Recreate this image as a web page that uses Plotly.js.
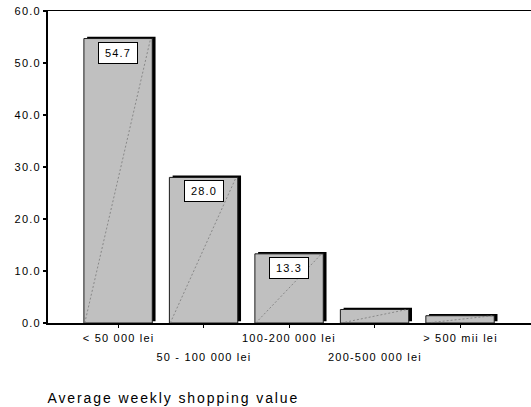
<!DOCTYPE html>
<html>
<head>
<meta charset="utf-8">
<script src="https://cdn.plot.ly/plotly-3.0.1.min.js"></script>
<style>
  html, body { margin: 0; padding: 0; background: #fff; }
  #chart { width: 531px; height: 407px; }
  .main-svg text { letter-spacing: 1.2px; }
  .annotation[data-index="0"] text { letter-spacing: 1.9px; }
</style>
</head>
<body>
<div id="chart"></div>
<script>
// Share of respondents by average weekly shopping value (%)
const categories = ['< 50 000 lei', '50 - 100 000 lei', '100-200 000 lei', '200-500 000 lei', '> 500 mii lei'];
const percents = [54.7, 28.0, 13.3, 2.6, 1.4];
const labelledBars = [0, 1, 2];           // bars carrying a value box
const yTickVals = [0, 10, 20, 30, 40, 50, 60];
const yTickText = ['0.0', '10.0', '20.0', '30.0', '40.0', '50.0', '60.0'];
const axisTitle = 'Average weekly shopping value';

const positions = categories.map((_, i) => i);
const BAR_W = 0.8;
const FONT = 'Liberation Sans, Arial, sans-serif';

// dark drop shadow behind each bar (nudged right and slightly lifted)
const shadow = {
  type: 'bar',
  x: positions,
  y: percents,
  base: 0.35,
  width: BAR_W,
  offset: -BAR_W / 2 + 0.038,
  marker: { color: '#000', line: { width: 0 } },
  hoverinfo: 'skip',
  showlegend: false
};

const bars = {
  type: 'bar',
  x: positions,
  y: percents,
  width: BAR_W,
  offset: -BAR_W / 2,
  marker: { color: '#c0c0c0', line: { color: '#1a1a1a', width: 1 } },
  showlegend: false
};

// faint diagonal hatch running corner to corner through every bar
const diagonals = percents.map((v, i) => ({
  type: 'scatter',
  mode: 'lines',
  x: [i - BAR_W / 2 + 0.01, i + BAR_W / 2 - 0.02],
  y: [0, v],
  line: { color: '#7a7a7a', width: 0.8, dash: '2px,2px' },
  hoverinfo: 'skip',
  showlegend: false
}));

const annotations = [];

// axis caption, spanning from the y axis rightwards
annotations.push({
  text: axisTitle,
  xref: 'paper', yref: 'paper',
  x: 0, y: 0,
  xanchor: 'center', yanchor: 'middle',
  xshift: 125, yshift: -75,
  showarrow: false,
  font: { family: FONT, size: 14, color: '#000' }
});

// staggered category labels under the axis
categories.forEach((c, i) => {
  annotations.push({
    text: c,
    xref: 'x', yref: 'paper',
    x: i, y: 0,
    xanchor: 'center', yanchor: 'middle',
    yshift: i % 2 === 0 ? -15 : -34,
    showarrow: false,
    font: { family: FONT, size: 11, color: '#000' }
  });
});

// boxed value labels just under the bar tops
labelledBars.forEach(i => {
  annotations.push({
    text: percents[i].toFixed(1),
    xref: 'x', yref: 'y',
    x: i, y: percents[i],
    xanchor: 'center', yanchor: 'top',
    yshift: -3,
    showarrow: false,
    width: 30,
    bgcolor: '#fff',
    bordercolor: '#000',
    borderwidth: 1,
    borderpad: 4,
    font: { family: FONT, size: 11, color: '#000' }
  });
});

const layout = {
  width: 531,
  height: 407,
  margin: { l: 48, r: 0, t: 11, b: 84 },
  paper_bgcolor: '#fff',
  plot_bgcolor: '#fff',
  barmode: 'overlay',
  showlegend: false,
  font: { family: FONT, size: 11, color: '#000' },
  xaxis: {
    type: 'linear',
    range: [-0.82, 4.83],
    tickvals: positions,
    showticklabels: false,
    ticks: 'outside',
    ticklen: 3,
    tickwidth: 1,
    tickcolor: '#000',
    showgrid: false,
    zeroline: false,
    showline: true,
    linecolor: '#000',
    linewidth: 1.5,
    mirror: true,
    fixedrange: true
  },
  yaxis: {
    range: [0, 60],
    tickvals: yTickVals,
    ticktext: yTickText,
    ticks: 'outside',
    ticklen: 3,
    tickwidth: 2.5,
    tickcolor: '#000',
    showgrid: false,
    zeroline: false,
    showline: true,
    linecolor: '#000',
    linewidth: 2,
    tickfont: { family: FONT, size: 11, color: '#000' },
    fixedrange: true
  },
  annotations: annotations
};

Plotly.newPlot('chart', [shadow, bars, ...diagonals], layout, { displayModeBar: false, staticPlot: true });
</script>
</body>
</html>
